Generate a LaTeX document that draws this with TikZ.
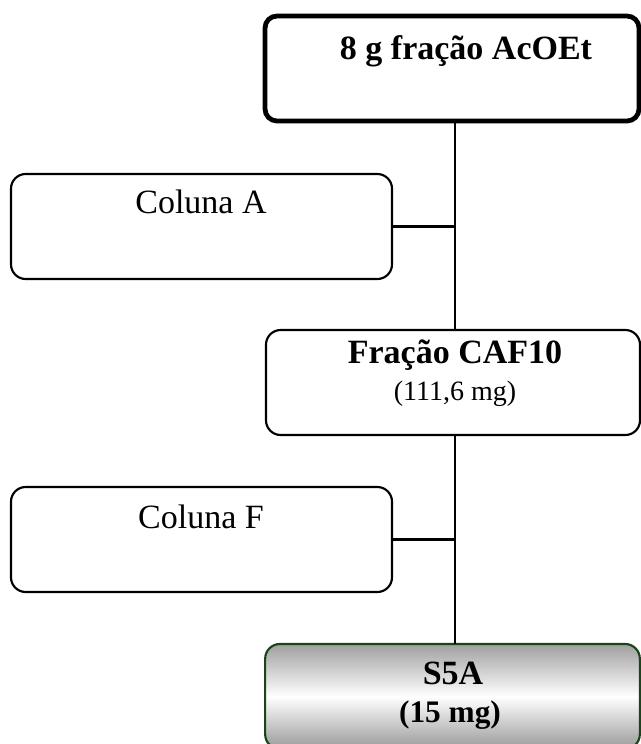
\documentclass[tikz,border=0pt]{standalone}
\usepackage{fontspec}
\setmainfont{Liberation Serif}
\newcommand\myfbig{\fontsize{25.5}{30}\selectfont}
\newcommand\myfsmall{\fontsize{21}{25}\selectfont}
\newcommand\myfmid{\fontsize{23.5}{28}\selectfont}
\definecolor{darkgreenborder}{RGB}{24,70,24}
\tikzset{
  box/.style={draw=black, line width=1.6pt, rounded corners=11pt, inner sep=0pt, outer sep=0pt,
    minimum height=78.75pt},
  topbox/.style={box, line width=3.6pt, rounded corners=9pt},
  leftbox/.style={box, minimum width=285.75pt},
  rightbox/.style={box, minimum width=280.5pt},
  metalbox/.style={box, draw=darkgreenborder, minimum width=281pt,
    top color=gray!75, bottom color=gray!80, middle color=white},
  txt/.style={anchor=base, inner sep=0pt},
  conn/.style={draw=black, line width=1.6pt}
}
\begin{document}
\begin{tikzpicture}[x=0.75pt, y=-0.75pt]
\clip (0,0) rectangle (641,744);
\fill[white] (0,0) rectangle (641,744);
% boxes
\node[topbox, minimum width=280.5pt] (top) at (452,68.5) {};
\node[leftbox] (colA) at (201.5,226.5) {};
\node[rightbox] (caf) at (453,382.5) {};
\node[leftbox] (colF) at (201.5,539.5) {};
\node[metalbox] (s5a) at (452.5,696.5) {};
% texts
\node[txt] (tTop) at (466,59) {\myfbig\bfseries 8 g fração AcOEt};
\node[txt] (tA) at (201,213) {\myfbig Coluna A};
\node[txt] (tCaf) at (455,363.5) {\myfbig\bfseries Fração CAF10};
\node[txt] (tCafm) at (455,400) {\myfsmall (111,6 mg)};
\node[txt] (tF) at (201,528) {\myfbig Coluna F};
\node[txt] (tS) at (453,684.5) {\myfbig\bfseries S5A};
\node[txt] (tSm) at (450,722.5) {\myfmid\bfseries (15 mg)};
% connectors
\coordinate (vx) at (455,0);
\draw[conn] (top.south -| vx) -- (caf.north -| vx);
\draw[conn] (caf.south -| vx) -- (s5a.north -| vx);
\draw[conn] (colA.east) -- (colA.east -| vx);
\draw[conn] (colF.east) -- (colF.east -| vx);
\end{tikzpicture}
\end{document}
